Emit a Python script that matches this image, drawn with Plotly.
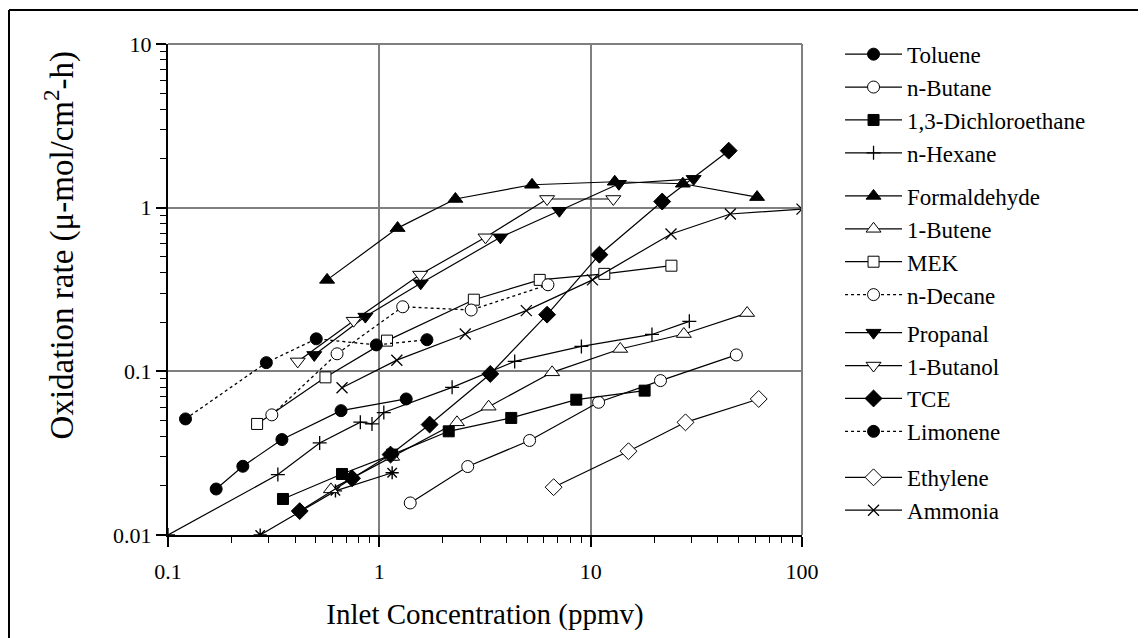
import plotly.graph_objects as go

# ---------------- data ----------------
toluene_x = [0.169, 0.226, 0.346, 0.659, 1.34]
toluene_y = [0.0191, 0.0263, 0.0383, 0.0575, 0.0678]

nbutane_x = [1.40, 2.62, 5.14, 10.9, 21.4, 48.9]
nbutane_y = [0.0157, 0.0262, 0.0378, 0.0647, 0.0878, 0.126]

dce_x = [0.35, 0.666, 1.15, 2.13, 4.21, 8.55, 18.0]
dce_y = [0.0166, 0.0236, 0.031, 0.043, 0.0519, 0.0671, 0.0762]

nhexane_x = [0.1, 0.331, 0.522, 0.813, 0.923, 1.05, 2.21, 4.37, 9.04, 19.5, 29.3]
nhexane_y = [0.01, 0.0234, 0.0365, 0.0489, 0.0477, 0.056, 0.0798, 0.115, 0.142, 0.168, 0.202]

formaldehyde_x = [0.566, 1.22, 2.29, 5.28, 13.0, 27.3, 61.3]
formaldehyde_y = [0.362, 0.75, 1.13, 1.38, 1.44, 1.40, 1.16]

butene_x = [0.59, 1.15, 2.33, 3.29, 6.57, 13.8, 27.6, 55.0]
butene_y = [0.0190, 0.030, 0.0488, 0.0608, 0.0986, 0.137, 0.169, 0.227]

mek_x = [0.264, 0.556, 1.087, 2.80, 5.74, 11.6, 24.1]
mek_y = [0.0477, 0.0919, 0.154, 0.274, 0.362, 0.394, 0.442]

ndecane_x = [0.31, 0.631, 1.29, 2.72, 6.28]
ndecane_y = [0.0542, 0.128, 0.248, 0.237, 0.338]

propanal_x = [0.492, 0.859, 1.57, 3.74, 7.11, 13.6, 30.7]
propanal_y = [0.126, 0.216, 0.345, 0.659, 0.958, 1.40, 1.50]

butanol_x = [0.411, 0.756, 1.56, 3.18, 6.22, 12.8]
butanol_y = [0.115, 0.204, 0.390, 0.659, 1.13, 1.13]

tce_x = [0.42, 0.743, 1.13, 1.73, 3.35, 6.22, 11.0, 21.8, 45.0]
tce_y = [0.0140, 0.0222, 0.031, 0.0473, 0.0964, 0.222, 0.516, 1.09, 2.23]

limonene_x = [0.121, 0.292, 0.503, 0.968, 1.68]
limonene_y = [0.0512, 0.113, 0.158, 0.145, 0.156]

ethylene_x = [6.68, 15.1, 28.1, 62.4]
ethylene_y = [0.0196, 0.0325, 0.0488, 0.0678]

ammonia_x = [0.666, 1.21, 2.55, 4.96, 10.2, 24.0, 45.8, 100]
ammonia_y = [0.0794, 0.117, 0.169, 0.235, 0.362, 0.691, 0.915, 0.98]

ammonia_low_x = [0.273, 0.62, 1.15]
ammonia_low_y = [0.0100, 0.0186, 0.0240]

x_tickvals = [0.1, 1, 10, 100]
x_ticktext = ["0.1", "1", "10", "100"]
y_tickvals = [0.01, 0.1, 1, 10]
y_ticktext = ["0.01", "0.1", "1", "10"]

x_title = "Inlet Concentration (ppmv)"
y_title = "Oxidation rate (\u03bc-mol/cm<sup>2</sup>-h)"

# ---------------- styling ----------------
FONT = "Liberation Serif"
BLACK = "#000000"
WHITE = "#ffffff"
GRID = "#7f7f7f"

# name, x, y, symbol, filled, dash, size, legend
series = [
    ("Toluene", toluene_x, toluene_y, "circle", True, "solid", 12, "legend"),
    ("n-Butane", nbutane_x, nbutane_y, "circle", False, "solid", 12, "legend"),
    ("1,3-Dichloroethane", dce_x, dce_y, "square", True, "solid", 11, "legend"),
    ("n-Hexane", nhexane_x, nhexane_y, "cross-thin", True, "solid", 10, "legend"),
    ("Formaldehyde", formaldehyde_x, formaldehyde_y, "triangle-up", True, "solid", 13, "legend2"),
    ("1-Butene", butene_x, butene_y, "triangle-up", False, "solid", 13, "legend2"),
    ("MEK", mek_x, mek_y, "square", False, "solid", 11, "legend2"),
    ("n-Decane", ndecane_x, ndecane_y, "circle", False, "dot", 12, "legend2"),
    ("Propanal", propanal_x, propanal_y, "triangle-down", True, "solid", 13, "legend3"),
    ("1-Butanol", butanol_x, butanol_y, "triangle-down", False, "solid", 13, "legend3"),
    ("TCE", tce_x, tce_y, "diamond", True, "solid", 13, "legend3"),
    ("Limonene", limonene_x, limonene_y, "circle", True, "dot", 12, "legend3"),
    ("Ethylene", ethylene_x, ethylene_y, "diamond", False, "solid", 13, "legend4"),
    ("Ammonia", ammonia_x, ammonia_y, "x-thin", True, "solid", 11, "legend4"),
]

fig = go.Figure()

# extra low ammonia run (asterisk markers, not in legend)
fig.add_trace(go.Scatter(
    x=ammonia_low_x, y=ammonia_low_y, mode="lines+markers",
    line=dict(color=BLACK, width=1.2),
    marker=dict(symbol="asterisk-open", size=11, color=BLACK,
                line=dict(color=BLACK, width=1.4)),
    showlegend=False, legend="legend4", hoverinfo="skip",
))

for name, xs, ys, sym, filled, dash, size, leg in series:
    thin = sym.endswith("-thin")
    fig.add_trace(go.Scatter(
        x=xs, y=ys, name=name, mode="lines+markers",
        legend=leg,
        line=dict(color=BLACK, width=1.2 if dash == "solid" else 1.3, dash=dash),
        marker=dict(
            symbol=sym, size=size,
            color=BLACK if (filled or thin) else WHITE,
            line=dict(color=BLACK, width=1.3 if thin else 1.0),
        ),
    ))

minor_vals_x = [m * 10 ** e for e in (-1, 0, 1) for m in range(2, 10)]
minor_vals_y = [m * 10 ** e for e in (-2, -1, 0) for m in range(2, 10)]

fig.update_xaxes(
    type="log", range=[-1, 2],
    tickmode="array", tickvals=x_tickvals, ticktext=x_ticktext,
    ticks="outside", ticklen=10, tickwidth=1.5, tickcolor=BLACK,
    ticklabelstandoff=6,
    showgrid=True, gridcolor=GRID, gridwidth=2,
    showline=True, linecolor=BLACK, linewidth=2,
    zeroline=False,
    minor=dict(tickmode="array", tickvals=minor_vals_x, ticks="outside",
               ticklen=6, tickwidth=1.2, tickcolor=BLACK, showgrid=False),
    tickfont=dict(family=FONT, size=22, color=BLACK),
    title=dict(text=x_title, font=dict(family=FONT, size=29, color=BLACK),
               standoff=20),
)
fig.update_yaxes(
    type="log", range=[-2, 1],
    tickmode="array", tickvals=y_tickvals, ticktext=y_ticktext,
    ticks="outside", ticklen=10, tickwidth=1.5, tickcolor=BLACK,
    showgrid=True, gridcolor=GRID, gridwidth=2,
    showline=True, linecolor=BLACK, linewidth=2,
    zeroline=False,
    minor=dict(tickmode="array", tickvals=minor_vals_y, ticks="outside",
               ticklen=6, tickwidth=1.2, tickcolor=BLACK, showgrid=False),
    tickfont=dict(family=FONT, size=22, color=BLACK),
)

legend_style = dict(
    x=1.06, xanchor="left", yanchor="top",
    itemwidth=57, itemsizing="trace", traceorder="normal",
    font=dict(family=FONT, size=23, color=BLACK),
    bgcolor="rgba(0,0,0,0)", borderwidth=0,
)

fig.update_layout(
    width=1146, height=638,
    # page body adds an 8px offset, so margins are shifted to compensate
    margin=dict(l=160, r=352, t=36, b=111),
    paper_bgcolor=WHITE, plot_bgcolor=WHITE,
    font=dict(family=FONT, color=BLACK),
    showlegend=True,
    legend=dict(legend_style, y=1.0230),
    legend2=dict(legend_style, y=0.7343),
    legend3=dict(legend_style, y=0.4558),
    legend4=dict(legend_style, y=0.1612),
    annotations=[dict(
        text=y_title, textangle=-90, xref="paper", yref="paper",
        x=-0.171, y=0.589, xanchor="center", yanchor="middle",
        showarrow=False, font=dict(family=FONT, size=33, color=BLACK),
    )],
    shapes=[
        # grey frame on top and right of the plot area
        dict(type="line", xref="paper", yref="paper", x0=0, x1=1, y0=1, y1=1,
             line=dict(color=GRID, width=2)),
        dict(type="line", xref="paper", yref="paper", x0=1, x1=1, y0=0, y1=1,
             line=dict(color=GRID, width=2)),
        # outer figure border (top and left)
        dict(type="line", xref="paper", yref="paper", x0=-0.2508, x1=1.6,
             y0=1.0692, y1=1.0692, line=dict(color=BLACK, width=2)),
        dict(type="line", xref="paper", yref="paper", x0=-0.2508, x1=-0.2508,
             y0=-0.25, y1=1.0692, line=dict(color=BLACK, width=2)),
    ],
)

fig.write_html("out.html")
